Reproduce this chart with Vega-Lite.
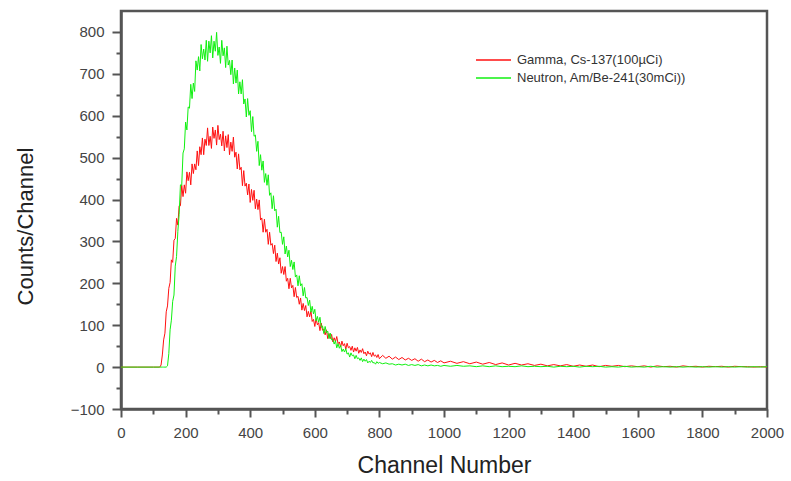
{
  "$schema": "https://vega.github.io/schema/vega-lite/v6.json",
  "width": 646,
  "height": 398,
  "autosize": {"type": "none"},
  "padding": {"left": 121, "top": 11, "right": 24, "bottom": 72},
  "background": "white",
  "config": {
    "view": {"stroke": "#555", "strokeWidth": 2.5},
    "font": "Liberation Sans"
  },
  "data": {
    "values": [
      {"c":0,"g":0,"r":0},{"c":50,"g":0,"r":0},{"c":100,"g":0,"r":0},{"c":120,"g":0,"r":0},
      {"c":124,"g":0,"r":5},{"c":128,"g":0,"r":29},{"c":132,"g":0,"r":65},{"c":136,"g":0,"r":81},
      {"c":140,"g":0,"r":132},{"c":144,"g":3,"r":146},{"c":148,"g":32,"r":188},{"c":152,"g":89,"r":202},
      {"c":156,"g":112,"r":256},{"c":160,"g":157,"r":250},{"c":164,"g":172,"r":303},{"c":168,"g":241,"r":307},
      {"c":172,"g":264,"r":355},{"c":176,"g":324,"r":339},{"c":180,"g":364,"r":385},{"c":184,"g":435,"r":385},
      {"c":188,"g":434,"r":434},{"c":192,"g":511,"r":407},{"c":196,"g":521,"r":435},{"c":200,"g":585,"r":415},
      {"c":204,"g":566,"r":466},{"c":208,"g":621,"r":445},{"c":212,"g":618,"r":465},{"c":216,"g":675,"r":435},
      {"c":220,"g":641,"r":485},{"c":224,"g":678,"r":462},{"c":228,"g":658,"r":485},{"c":232,"g":731,"r":471},
      {"c":236,"g":709,"r":516},{"c":240,"g":741,"r":481},{"c":244,"g":707,"r":526},{"c":248,"g":770,"r":507},
      {"c":252,"g":736,"r":547},{"c":256,"g":759,"r":507},{"c":260,"g":733,"r":544},{"c":264,"g":780,"r":529},
      {"c":268,"g":730,"r":571},{"c":272,"g":778,"r":529},{"c":276,"g":750,"r":551},{"c":280,"g":791,"r":522},
      {"c":284,"g":738,"r":573},{"c":288,"g":778,"r":546},{"c":292,"g":754,"r":566},{"c":296,"g":799,"r":530},
      {"c":300,"g":744,"r":577},{"c":304,"g":764,"r":543},{"c":308,"g":725,"r":556},{"c":312,"g":780,"r":528},
      {"c":316,"g":743,"r":563},{"c":320,"g":762,"r":516},{"c":324,"g":715,"r":552},{"c":328,"g":766,"r":524},
      {"c":332,"g":721,"r":555},{"c":336,"g":732,"r":507},{"c":340,"g":698,"r":537},{"c":344,"g":733,"r":515},
      {"c":348,"g":676,"r":549},{"c":352,"g":714,"r":501},{"c":356,"g":678,"r":513},{"c":360,"g":709,"r":473},
      {"c":364,"g":652,"r":509},{"c":368,"g":681,"r":471},{"c":372,"g":652,"r":477},{"c":376,"g":686,"r":433},
      {"c":380,"g":628,"r":469},{"c":384,"g":640,"r":432},{"c":388,"g":597,"r":439},{"c":392,"g":641,"r":411},
      {"c":396,"g":601,"r":437},{"c":400,"g":612,"r":393},{"c":404,"g":562,"r":424},{"c":408,"g":598,"r":398},
      {"c":412,"g":551,"r":422},{"c":416,"g":554,"r":378},{"c":420,"g":515,"r":401},{"c":424,"g":539,"r":376},
      {"c":428,"g":481,"r":399},{"c":432,"g":507,"r":351},{"c":436,"g":470,"r":356},{"c":440,"g":492,"r":322},
      {"c":444,"g":441,"r":353},{"c":448,"g":462,"r":322},{"c":452,"g":434,"r":329},{"c":456,"g":459,"r":293},
      {"c":460,"g":410,"r":322},{"c":464,"g":416,"r":291},{"c":468,"g":378,"r":295},{"c":472,"g":409,"r":271},
      {"c":476,"g":373,"r":291},{"c":480,"g":377,"r":252},{"c":484,"g":334,"r":272},{"c":488,"g":360,"r":246},
      {"c":492,"g":321,"r":261},{"c":496,"g":322,"r":224},{"c":500,"g":293,"r":240},{"c":504,"g":311,"r":221},
      {"c":508,"g":270,"r":240},{"c":512,"g":289,"r":205},{"c":516,"g":263,"r":212},{"c":520,"g":279,"r":187},
      {"c":524,"g":240,"r":212},{"c":528,"g":255,"r":189},{"c":532,"g":233,"r":195},{"c":536,"g":251,"r":168},
      {"c":540,"g":215,"r":190},{"c":544,"g":220,"r":166},{"c":548,"g":194,"r":169},{"c":552,"g":218,"r":150},
      {"c":556,"g":194,"r":165},{"c":560,"g":199,"r":136},{"c":564,"g":170,"r":152},{"c":568,"g":190,"r":135},
      {"c":572,"g":165,"r":147},{"c":576,"g":166,"r":120},{"c":580,"g":147,"r":133},{"c":584,"g":160,"r":120},
      {"c":588,"g":131,"r":134},{"c":592,"g":145,"r":109},{"c":596,"g":127,"r":114},{"c":600,"g":138,"r":97},
      {"c":604,"g":110,"r":116},{"c":608,"g":121,"r":101},{"c":612,"g":107,"r":106},{"c":616,"g":119,"r":87},
      {"c":620,"g":95,"r":105},{"c":624,"g":98,"r":88},{"c":628,"g":80,"r":90},{"c":632,"g":97,"r":77},
      {"c":636,"g":82,"r":89},{"c":640,"g":86,"r":68},{"c":644,"g":68,"r":80},{"c":648,"g":81,"r":68},
      {"c":652,"g":65,"r":78},{"c":656,"g":66,"r":60},{"c":660,"g":55,"r":70},{"c":664,"g":63,"r":61},
      {"c":668,"g":46,"r":73},{"c":672,"g":56,"r":56},{"c":676,"g":45,"r":60},{"c":680,"g":52,"r":48},
      {"c":684,"g":37,"r":62},{"c":688,"g":43,"r":51},{"c":692,"g":36,"r":56},{"c":696,"g":44,"r":43},
      {"c":700,"g":31,"r":57},{"c":704,"g":34,"r":46},{"c":708,"g":24,"r":49},{"c":712,"g":34,"r":40},
      {"c":716,"g":27,"r":50},{"c":720,"g":29,"r":36},{"c":724,"g":20,"r":46},{"c":728,"g":28,"r":38},
      {"c":732,"g":20,"r":47},{"c":736,"g":22,"r":33},{"c":740,"g":16,"r":41},{"c":744,"g":22,"r":35},
      {"c":748,"g":13,"r":44},{"c":752,"g":19,"r":32},{"c":756,"g":14,"r":36},{"c":760,"g":18,"r":27},
      {"c":764,"g":10,"r":38},{"c":768,"g":14,"r":31},{"c":772,"g":11,"r":34},{"c":776,"g":16,"r":25},
      {"c":780,"g":10,"r":35},{"c":784,"g":11,"r":26},{"c":788,"g":7,"r":29},{"c":792,"g":13,"r":23},
      {"c":796,"g":9,"r":30},{"c":800,"g":11,"r":20},
      {"c":810,"g":8,"r":28},{"c":820,"g":10,"r":21},{"c":830,"g":7,"r":26},{"c":840,"g":8,"r":19},
      {"c":850,"g":5,"r":24},{"c":860,"g":7,"r":18},{"c":870,"g":5,"r":23},{"c":880,"g":7,"r":17},
      {"c":890,"g":4,"r":21},{"c":900,"g":6,"r":16},{"c":910,"g":4,"r":20},{"c":920,"g":6,"r":14},
      {"c":930,"g":3,"r":19},{"c":940,"g":5,"r":13},{"c":950,"g":3,"r":17},{"c":960,"g":5,"r":12},
      {"c":970,"g":3,"r":16},{"c":980,"g":4,"r":11},{"c":990,"g":2,"r":15},{"c":1000,"g":4,"r":10},
      {"c":1020,"g":2,"r":14},{"c":1040,"g":4,"r":9},{"c":1060,"g":2,"r":13},{"c":1080,"g":3,"r":8},
      {"c":1100,"g":1,"r":12},{"c":1120,"g":3,"r":7},{"c":1140,"g":1,"r":11},{"c":1160,"g":3,"r":6},
      {"c":1180,"g":1,"r":10},{"c":1200,"g":2,"r":5},{"c":1220,"g":1,"r":9},{"c":1240,"g":3,"r":5},
      {"c":1260,"g":1,"r":8},{"c":1280,"g":2,"r":4},{"c":1300,"g":1,"r":7},{"c":1320,"g":2,"r":3},
      {"c":1340,"g":0,"r":6},{"c":1360,"g":2,"r":3},{"c":1380,"g":1,"r":6},{"c":1400,"g":2,"r":2},
      {"c":1420,"g":0,"r":5},{"c":1440,"g":2,"r":2},{"c":1460,"g":1,"r":5},{"c":1480,"g":2,"r":1},
      {"c":1500,"g":0,"r":4},{"c":1520,"g":1,"r":2},{"c":1540,"g":0,"r":4},{"c":1560,"g":2,"r":1},
      {"c":1580,"g":0,"r":3},{"c":1600,"g":1,"r":1},{"c":1620,"g":0,"r":3},{"c":1640,"g":2,"r":0},
      {"c":1660,"g":0,"r":3},{"c":1680,"g":1,"r":1},{"c":1700,"g":0,"r":2},{"c":1720,"g":1,"r":0},
      {"c":1740,"g":0,"r":3},{"c":1760,"g":1,"r":1},{"c":1780,"g":0,"r":2},{"c":1800,"g":1,"r":0},
      {"c":1820,"g":0,"r":2},{"c":1840,"g":1,"r":1},{"c":1860,"g":0,"r":2},{"c":1880,"g":1,"r":0},
      {"c":1900,"g":0,"r":2},{"c":1920,"g":1,"r":1},{"c":1940,"g":0,"r":1},{"c":1960,"g":1,"r":0},
      {"c":1980,"g":0,"r":1},{"c":2000,"g":1,"r":0}
    ]
  },
  "transform": [{"fold": ["r", "g"], "as": ["series", "v"]}],
  "mark": {"type": "line", "strokeWidth": 1, "clip": true},
  "encoding": {
    "x": {
      "field": "c", "type": "quantitative",
      "scale": {"domain": [0, 2000], "nice": false, "zero": false},
      "axis": {
        "title": "Channel Number",
        "values": [0,100,200,300,400,500,600,700,800,900,1000,1100,1200,1300,1400,1500,1600,1700,1800,1900,2000],
        "labelExpr": "datum.value % 200 === 0 ? datum.label : ''",
        "format": "d",
        "labelFlush": false,
        "labelOverlap": false,
        "grid": false,
        "domainColor": "#555", "domainWidth": 2.5,
        "tickColor": "#555", "tickWidth": 2,
        "tickSize": {"condition": {"test": "datum.value % 200 === 0", "value": 8}, "value": 5},
        "labelFont": "Liberation Sans", "labelFontSize": 15, "labelColor": "#444",
        "labelPadding": 8,
        "titleFont": "Liberation Sans", "titleFontSize": 23, "titleFontWeight": "normal", "titleColor": "#222",
        "titleBaseline": "alphabetic", "titleY": 63
      }
    },
    "y": {
      "field": "v", "type": "quantitative",
      "scale": {"domain": [-100, 850], "nice": false, "zero": false},
      "axis": {
        "title": "Counts/Channel",
        "values": [-100,-50,0,50,100,150,200,250,300,350,400,450,500,550,600,650,700,750,800],
        "labelExpr": "datum.value % 100 === 0 ? datum.label : ''",
        "format": "d",
        "labelFlush": false,
        "labelOverlap": false,
        "grid": false,
        "domainColor": "#555", "domainWidth": 2.5,
        "tickColor": "#555", "tickWidth": 2,
        "tickSize": {"condition": {"test": "datum.value % 100 === 0", "value": 9}, "value": 5},
        "labelFont": "Liberation Sans", "labelFontSize": 15, "labelColor": "#444",
        "labelPadding": 8,
        "titleFont": "Liberation Sans", "titleFontSize": 22, "titleFontWeight": "normal", "titleColor": "#222",
        "titleBaseline": "alphabetic", "titleX": -89, "titleY": 215
      }
    },
    "color": {
      "field": "series", "type": "nominal",
      "scale": {"domain": ["r", "g"], "range": ["#ff1010", "#10f010"]},
      "legend": {
        "title": null,
        "orient": "none",
        "legendX": 354,
        "legendY": 40,
        "symbolType": "stroke",
        "symbolSize": 1225,
        "symbolStrokeWidth": 1.5,
        "labelOffset": 5,
        "labelFont": "Liberation Sans",
        "labelFontSize": 13,
        "labelColor": "#333",
        "labelLimit": 0,
        "clipHeight": 18,
        "rowPadding": 0,
        "padding": 0,
        "labelExpr": "datum.value === 'r' ? 'Gamma, Cs-137(100µCi)' : 'Neutron, Am/Be-241(30mCi))'"
      }
    }
  }
}
